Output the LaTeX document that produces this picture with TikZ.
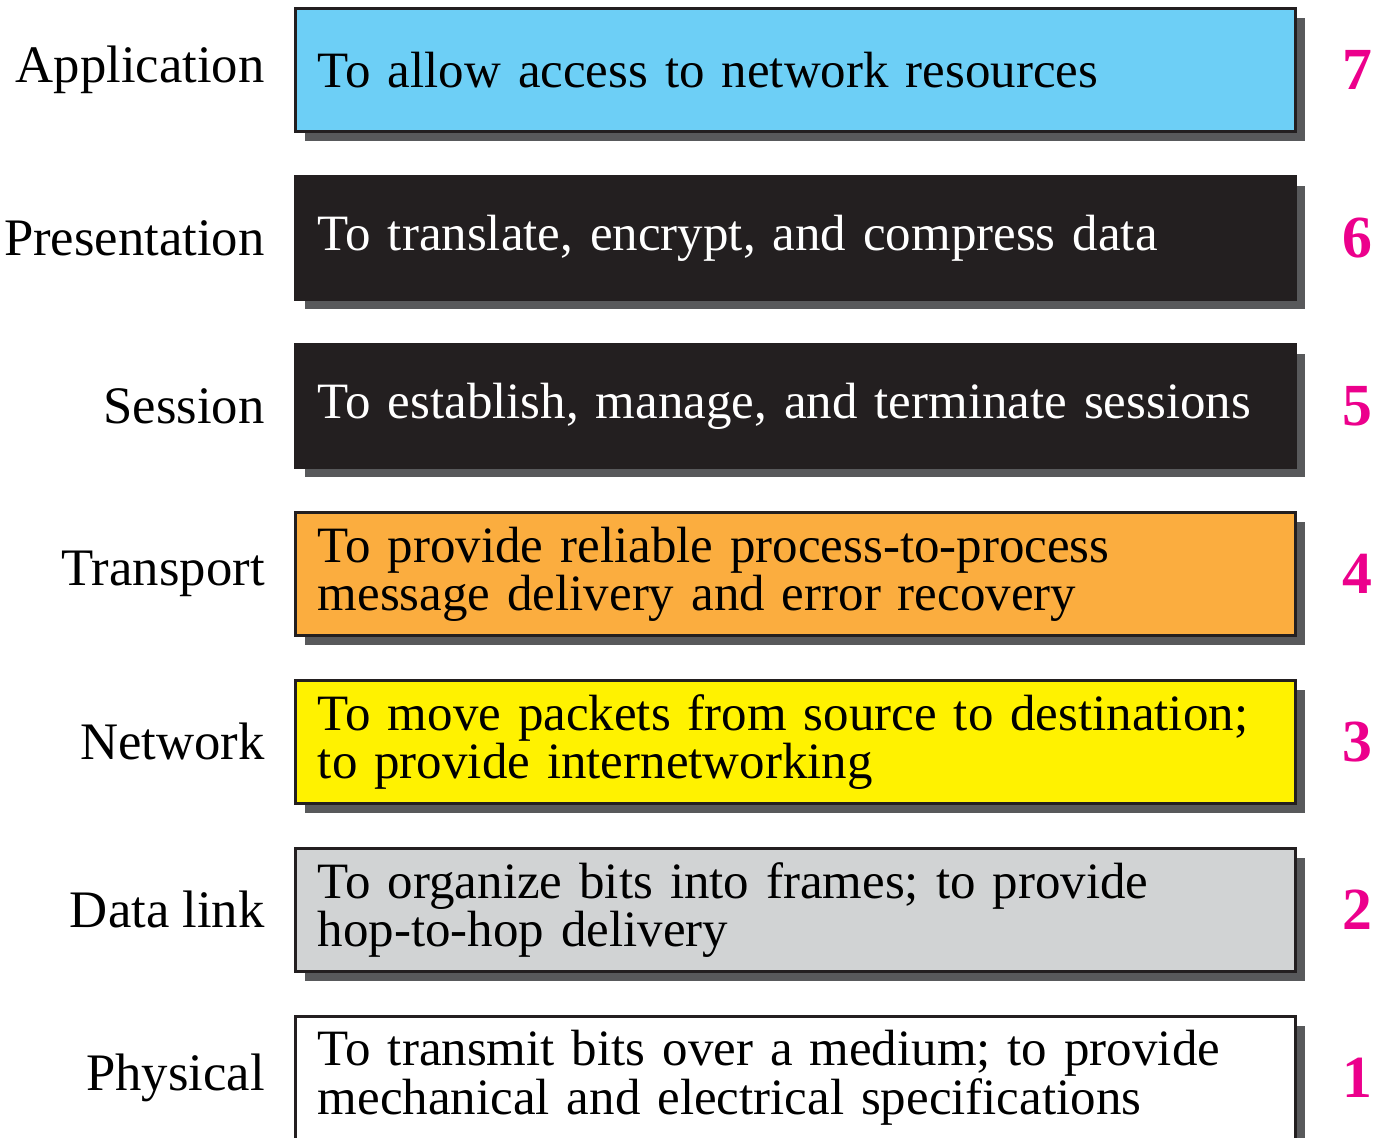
\documentclass[tikz,border=0pt]{standalone}
\usepackage{fontspec}
\setmainfont{Liberation Serif}
\usetikzlibrary{positioning,shadows}
\hyphenpenalty=10000
\definecolor{appblue}{HTML}{6DCFF6}
\definecolor{layerblack}{HTML}{231F20}
\definecolor{transorange}{HTML}{FBAD3F}
\definecolor{netyellow}{HTML}{FFF200}
\definecolor{linkgray}{HTML}{D1D3D4}
\definecolor{shadowgray}{HTML}{58595B}
\definecolor{numpink}{HTML}{EC008C}
\tikzset{
  layerbox/.style={draw=layerblack, line width=1.6pt, minimum width=20cm, minimum height=2.46cm,
    text width=19.1cm, inner xsep=0.45cm, align=left, anchor=north west,
    font=\fontsize{29}{25.5}\selectfont,
    drop shadow={shadow xshift=0.2cm, shadow yshift=-0.2cm, fill=shadowgray, opacity=1}},
  layername/.style={font=\fontsize{30}{34}\selectfont, inner sep=0pt},
  layernum/.style={font=\fontsize{34}{34}\selectfont\bfseries, text=numpink, inner sep=0pt}
}
\begin{document}
\begin{tikzpicture}[x=0.02cm, y=-0.02cm]
  \useasboundingbox (0,0) rectangle (1383,1138);
  % the seven layers, top to bottom
  \node[layerbox, fill=appblue]     (app)   at (294,7)    {To allow access to network resources};
  \node[layerbox, fill=layerblack, text=white] (pres) at (294,175) {To translate, encrypt, and compress data};
  \node[layerbox, fill=layerblack, text=white] (sess) at (294,343) {To establish, manage, and terminate sessions};
  \node[layerbox, fill=transorange] (trans) at (294,511)  {To provide reliable process-to-process\\message delivery and error recovery};
  \node[layerbox, fill=netyellow]   (net)   at (294,679)  {To move packets from source to destination;\\to provide internetworking};
  \node[layerbox, fill=linkgray]    (link)  at (294,847)  {To organize bits into frames; to provide\\hop-to-hop delivery};
  \node[layerbox, fill=white]       (phys)  at (294,1015) {To transmit bits over a medium; to provide\\mechanical and electrical specifications};
  % names
  \node[layername, left=0.58cm of app]   (appname)   {Application};
  \node[layername, left=0.58cm of pres]  (presname)  {Presentation};
  \node[layername, left=0.58cm of sess]  (sessname)  {Session};
  \node[layername, left=0.58cm of trans] (transname) {Transport};
  \node[layername, left=0.58cm of net]   (netname)   {Network};
  \node[layername, left=0.58cm of link]  (linkname)  {Data link};
  \node[layername, left=0.58cm of phys]  (physname)  {Physical};
  % numbers
  \node[layernum, right=0.92cm of app]   (appnum)   {7};
  \node[layernum, right=0.92cm of pres]  (presnum)  {6};
  \node[layernum, right=0.92cm of sess]  (sessnum)  {5};
  \node[layernum, right=0.92cm of trans] (transnum) {4};
  \node[layernum, right=0.92cm of net]   (netnum)   {3};
  \node[layernum, right=0.92cm of link]  (linknum)  {2};
  \node[layernum, right=0.92cm of phys]  (physnum)  {1};
\end{tikzpicture}
\end{document}
